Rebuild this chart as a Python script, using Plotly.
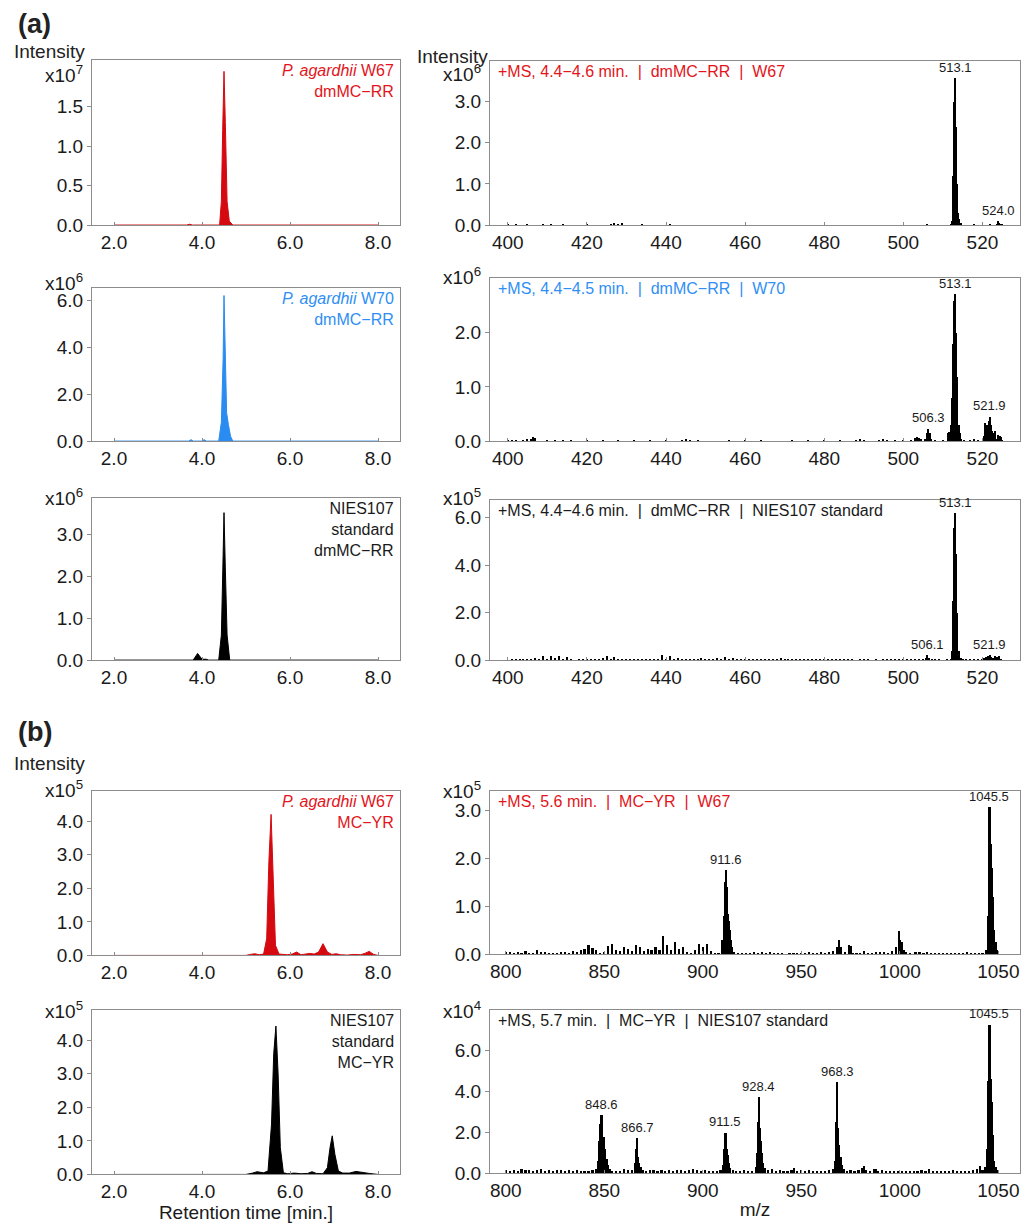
import plotly.graph_objects as go

W, H = 1035, 1225
FONT = "Liberation Sans, Arial, sans-serif"
RED_FILL = "#d40a10"
RED_TXT = "#e3141b"
BLUE_FILL = "#2a8cf0"
BLUE_TXT = "#2f8ff5"
BLACK = "#000000"
TXT = "#1a1a1a"

# ---------------- chromatograms (retention time in min, intensity scaled) ----------------
rt_a1 = [2.0, 3.65, 3.72, 3.78, 4.40, 4.44, 4.47, 4.50, 4.53, 4.57, 4.62, 4.70, 8.0]
int_a1 = [0, 0, 0.01, 0, 0, 0.3, 1.2, 1.95, 1.3, 0.3, 0.05, 0, 0]

rt_a2 = [2.0, 3.7, 3.75, 3.8, 4.0, 4.05, 4.1, 4.38, 4.44, 4.48, 4.50, 4.53, 4.56, 4.6, 4.65, 4.7, 8.0]
int_a2 = [0, 0, 0.06, 0, 0, 0.06, 0, 0, 0.8, 3.5, 6.2, 3.2, 1.2, 0.7, 0.2, 0, 0]

rt_a3 = [2.0, 2.25, 2.3, 2.35, 2.95, 3.0, 3.05, 3.3, 3.35, 3.4, 3.8, 3.9, 4.0, 4.1, 4.15,
         4.38, 4.44, 4.48, 4.5, 4.53, 4.57, 4.63, 8.0]
int_a3 = [0, 0, 0.01, 0, 0, 0.01, 0, 0, 0.01, 0, 0, 0.16, 0.02, 0.02, 0,
          0, 0.6, 2.5, 3.52, 2.2, 0.6, 0, 0]

rt_b1 = [2.0, 5.0, 5.1, 5.2, 5.3, 5.4, 5.47, 5.52, 5.57, 5.62, 5.67, 5.75, 5.85, 5.95, 6.05,
         6.15, 6.25, 6.35, 6.45, 6.55, 6.65, 6.75, 6.85, 6.95, 7.05, 7.15, 7.3, 7.45, 7.6,
         7.7, 7.8, 7.9, 8.0]
int_b1 = [0, 0, 0.03, 0.05, 0.02, 0.04, 0.5, 2.8, 4.2, 2.5, 0.3, 0.04, 0.03, 0.02, 0.04,
          0.1, 0.02, 0.03, 0.06, 0.04, 0.1, 0.35, 0.1, 0.03, 0.05, 0.02, 0.01, 0.03, 0.02,
          0.06, 0.12, 0.03, 0]

rt_b2 = [2.0, 5.0, 5.15, 5.25, 5.4, 5.5, 5.58, 5.63, 5.68, 5.73, 5.78, 5.85, 5.95, 6.1, 6.25,
         6.4, 6.5, 6.6, 6.75, 6.85, 6.91, 6.96, 7.02, 7.1, 7.2, 7.35, 7.5, 7.65, 7.8, 8.0]
int_b2 = [0, 0, 0.04, 0.08, 0.05, 0.1, 1.5, 3.6, 4.42, 3.0, 0.8, 0.05, 0.02, 0.04, 0.02,
          0.03, 0.08, 0.03, 0.02, 0.2, 0.8, 1.15, 0.6, 0.1, 0.04, 0.04, 0.09, 0.07, 0.03, 0]

# ---------------- mass spectra (m/z, intensity scaled) ----------------
mz_a1 = [400, 401, 402, 403, 405, 407, 409, 411, 413, 414, 416, 418, 420, 422, 424, 426, 427,
         428, 429, 430, 432, 434, 436, 438, 440, 441, 442, 444, 446, 450, 455, 460, 465, 470,
         475, 480, 485, 490, 495, 500, 505, 506, 508, 510, 512, 512.4, 512.7, 512.9, 513.1,
         513.3, 513.5, 513.7, 513.9, 514.2, 514.5, 516, 518, 520, 522, 523.6, 523.9, 524.2,
         524.5, 525]
ms_a1 = [0.04, 0.01, 0.03, 0.0, 0.02, 0.01, 0.02, 0.02, 0.01, 0.04, 0.01, 0.0, 0.02, 0.01,
         0.01, 0.03, 0.05, 0.03, 0.06, 0.01, 0.01, 0.02, 0.01, 0.0, 0.01, 0.03, 0.01, 0.01,
         0.0, 0.01, 0.0, 0.01, 0.0, 0.01, 0.01, 0.01, 0.0, 0.01, 0.01, 0.01, 0.01, 0.02, 0.01,
         0.01, 0.02, 0.1, 1.2, 3.0, 3.58, 2.4, 1.0, 0.5, 0.3, 0.15, 0.05, 0.01, 0.02, 0.01,
         0.02, 0.04, 0.1, 0.06, 0.04, 0.02]

mz_a2 = [400, 401, 402, 404, 405, 406, 406.5, 407, 410, 412, 414, 416, 420, 424, 428, 432,
         436, 440, 444, 445, 446, 448, 452, 456, 460, 464, 468, 472, 476, 480, 484, 488, 489,
         490, 494, 495, 496, 498, 500, 502, 503, 503.5, 504, 504.5, 505.5, 505.9, 506.3, 506.7,
         507.1, 508, 510, 511.3, 511.7, 512.1, 512.4, 512.7, 512.9, 513.1, 513.3, 513.5, 513.7,
         514.0, 514.3, 514.6, 515.5, 517, 518, 519, 520.5, 520.8, 521.1, 521.4, 521.7, 521.9,
         522.2, 522.5, 522.8, 523.1, 523.5, 524.0, 524.4, 524.8, 525]
ms_a2 = [0.01, 0.02, 0.02, 0.01, 0.04, 0.05, 0.08, 0.06, 0.01, 0.02, 0.01, 0.01, 0.01, 0.02,
         0.01, 0.02, 0.01, 0.01, 0.02, 0.05, 0.02, 0.01, 0.0, 0.01, 0.01, 0.01, 0.0, 0.01,
         0.01, 0.01, 0.01, 0.02, 0.04, 0.01, 0.01, 0.05, 0.02, 0.01, 0.01, 0.02, 0.06, 0.08,
         0.06, 0.04, 0.05, 0.15, 0.24, 0.15, 0.05, 0.01, 0.01, 0.15, 0.18, 0.3, 0.8, 1.8, 2.6,
         2.72, 2.0, 1.2, 0.6, 0.3, 0.15, 0.05, 0.01, 0.02, 0.04, 0.01, 0.1, 0.35, 0.3, 0.28,
         0.38, 0.46, 0.3, 0.2, 0.15, 0.2, 0.05, 0.12, 0.1, 0.08, 0.02]

mz_a3 = [400, 401, 402, 403, 404, 405, 406, 407, 408, 409, 410, 411, 412, 413, 414, 415, 416,
         417, 418, 419, 420, 421, 422, 423, 424, 425, 426, 427, 428, 429, 430, 431, 432, 433,
         434, 435, 436, 437, 438, 439, 440, 441, 442, 443, 444, 445, 446, 447, 448, 449, 450,
         451, 452, 453, 454, 455, 456, 457, 458, 459, 460, 461, 462, 463, 464, 465, 466, 467,
         468, 469, 470, 471, 472, 473, 474, 475, 476, 477, 478, 479, 480, 481, 482, 483, 484,
         485, 486, 487, 488, 489, 490, 491, 492, 493, 494, 495, 496, 497, 498, 499, 500, 501,
         502, 503, 504, 505, 505.8, 506.1, 506.5, 507.2, 508, 509, 510, 511, 512, 512.4, 512.7,
         512.9, 513.1, 513.3, 513.5, 513.7, 514.0, 514.5, 515, 516, 517, 518, 519, 520, 520.5,
         521, 521.5, 521.9, 522.3, 522.8, 523.3, 523.8, 524.3, 524.8, 525]
ms_a3 = [0.02, 0.06, 0.03, 0.06, 0.03, 0.06, 0.04, 0.12, 0.06, 0.2, 0.08, 0.18, 0.1, 0.2,
         0.08, 0.16, 0.04, 0.02, 0.06, 0.03, 0.06, 0.04, 0.08, 0.04, 0.1, 0.2, 0.05, 0.14,
         0.06, 0.08, 0.04, 0.06, 0.03, 0.05, 0.03, 0.06, 0.04, 0.05, 0.08, 0.22, 0.08, 0.2,
         0.05, 0.1, 0.03, 0.05, 0.03, 0.04, 0.03, 0.1, 0.04, 0.08, 0.04, 0.1, 0.05, 0.14, 0.05,
         0.1, 0.03, 0.06, 0.03, 0.04, 0.03, 0.05, 0.03, 0.06, 0.03, 0.08, 0.04, 0.1, 0.04,
         0.06, 0.03, 0.04, 0.03, 0.04, 0.03, 0.05, 0.03, 0.04, 0.03, 0.06, 0.03, 0.08, 0.03,
         0.06, 0.03, 0.04, 0.02, 0.04, 0.03, 0.04, 0.02, 0.03, 0.02, 0.06, 0.03, 0.06, 0.03,
         0.04, 0.03, 0.04, 0.03, 0.04, 0.03, 0.05, 0.12, 0.22, 0.1, 0.04, 0.03, 0.04, 0.02,
         0.03, 0.05, 0.4, 2.5, 5.6, 6.2, 4.5, 2.0, 0.9, 0.4, 0.1, 0.04, 0.03, 0.04, 0.03, 0.04,
         0.05, 0.12, 0.15, 0.18, 0.22, 0.15, 0.12, 0.2, 0.14, 0.18, 0.06, 0.02]

mz_b1 = [800, 802, 804, 806, 808, 810, 812, 814, 816, 818, 820, 822, 824, 826, 828, 830, 832,
         834, 836, 838, 840, 842, 844, 846, 848, 850, 852, 854, 856, 858, 860, 862, 864, 866,
         868, 870, 872, 874, 876, 878, 880, 882, 884, 886, 888, 890, 892, 894, 896, 898, 900,
         902, 904, 906, 908, 910, 910.6, 911.1, 911.6, 912.1, 912.6, 913.1, 913.6, 914.2,
         914.8, 916, 918, 920, 922, 924, 926, 928, 930, 932, 934, 936, 938, 940, 942, 944, 946,
         948, 950, 952, 954, 956, 958, 960, 962, 964, 966, 968, 969, 970, 972, 974, 975, 976,
         978, 980, 982, 984, 986, 988, 990, 992, 994, 996, 998, 999.5, 1000.3, 1001.1, 1002,
         1003, 1005, 1008, 1010, 1012, 1014, 1016, 1018, 1020, 1022, 1024, 1026, 1028, 1030,
         1032, 1034, 1036, 1038, 1040, 1042, 1044, 1044.6, 1045.1, 1045.5, 1046.0, 1046.5,
         1047.0, 1047.5, 1048.0, 1048.6, 1049.2, 1050]
ms_b1 = [0.05, 0.06, 0.02, 0.05, 0.03, 0.08, 0.02, 0.04, 0.1, 0.05, 0.06, 0.03, 0.04, 0.04,
         0.05, 0.06, 0.04, 0.08, 0.06, 0.1, 0.12, 0.2, 0.14, 0.1, 0.04, 0.06, 0.18, 0.22, 0.1,
         0.08, 0.15, 0.12, 0.08, 0.2, 0.15, 0.08, 0.12, 0.1, 0.15, 0.1, 0.38, 0.2, 0.1, 0.27,
         0.12, 0.15, 0.06, 0.04, 0.1, 0.22, 0.15, 0.22, 0.08, 0.03, 0.04, 0.3, 0.8, 1.5, 1.75,
         1.4, 0.85, 0.7, 0.5, 0.3, 0.15, 0.05, 0.03, 0.04, 0.02, 0.03, 0.05, 0.03, 0.05, 0.04,
         0.06, 0.03, 0.04, 0.02, 0.01, 0.04, 0.03, 0.02, 0.04, 0.03, 0.05, 0.04, 0.04, 0.05,
         0.04, 0.06, 0.08, 0.15, 0.3, 0.15, 0.05, 0.2, 0.18, 0.04, 0.02, 0.02, 0.08, 0.02, 0.04,
         0.06, 0.05, 0.06, 0.04, 0.08, 0.15, 0.48, 0.3, 0.25, 0.1, 0.06, 0.02, 0.05, 0.06,
         0.04, 0.06, 0.03, 0.04, 0.03, 0.04, 0.02, 0.03, 0.02, 0.04, 0.02, 0.05, 0.02, 0.03,
         0.02, 0.03, 0.1, 0.8, 2.4, 3.07, 2.3, 1.8, 1.2, 0.8, 0.5, 0.25, 0.1, 0.03]

mz_b2 = [800, 802, 804, 806, 808, 810, 812, 814, 816, 818, 820, 822, 824, 826, 828, 830, 832,
         834, 836, 838, 840, 842, 844, 846, 847, 847.6, 848.1, 848.6, 849.2, 849.8, 850.4,
         851.1, 852, 853, 854, 856, 858, 860, 862, 864, 865.8, 866.3, 866.7, 867.2, 867.8,
         868.5, 869.5, 871, 873, 875, 877, 879, 881, 883, 885, 887, 889, 891, 893, 895, 897,
         899, 901, 903, 905, 907, 909, 910.5, 911.0, 911.5, 912.0, 912.6, 913.2, 914, 915.5,
         917, 919, 921, 923, 925, 926.8, 927.4, 927.9, 928.4, 928.9, 929.4, 930.0, 930.7,
         931.5, 933, 935, 937, 939, 941, 943, 945, 946.5, 948, 950, 952, 954, 956, 958, 960,
         962, 964, 966, 967.3, 967.8, 968.3, 968.8, 969.3, 969.9, 970.6, 971.5, 973, 975, 977,
         979, 981, 982, 983, 985, 987, 988, 989, 991, 993, 995, 997, 999, 1001, 1003, 1005,
         1007, 1009, 1011, 1013, 1015, 1017, 1019, 1021, 1023, 1025, 1027, 1029, 1031, 1033,
         1035, 1037, 1039, 1040.5, 1042, 1043.5, 1044.4, 1044.9, 1045.5, 1046.0, 1046.5,
         1047.0, 1047.5, 1048.0, 1048.6, 1049.3, 1050]
ms_b2 = [0.15, 0.1, 0.18, 0.12, 0.2, 0.15, 0.18, 0.12, 0.15, 0.2, 0.12, 0.15, 0.12, 0.18,
         0.15, 0.12, 0.18, 0.12, 0.15, 0.1, 0.12, 0.1, 0.15, 0.2, 0.6, 1.6, 2.4, 2.85, 1.6,
         1.8, 1.2, 0.7, 0.4, 0.2, 0.1, 0.12, 0.1, 0.2, 0.18, 0.15, 0.5, 1.2, 1.72, 0.8, 0.5,
         0.3, 0.15, 0.12, 0.18, 0.15, 0.12, 0.15, 0.12, 0.15, 0.1, 0.15, 0.18, 0.12, 0.15, 0.2,
         0.15, 0.12, 0.15, 0.1, 0.12, 0.1, 0.15, 0.4, 1.2, 2.0, 1.2, 0.9, 0.5, 0.25, 0.15, 0.12,
         0.1, 0.15, 0.1, 0.12, 0.3, 1.0, 2.5, 3.73, 2.2, 1.6, 1.0, 0.5, 0.25, 0.15, 0.2, 0.12,
         0.15, 0.1, 0.12, 0.15, 0.25, 0.12, 0.15, 0.12, 0.15, 0.1, 0.12, 0.1, 0.12, 0.15, 0.2,
         0.6, 2.5, 4.47, 2.2, 1.4, 0.8, 0.4, 0.2, 0.12, 0.15, 0.12, 0.15, 0.25, 0.35, 0.15,
         0.12, 0.2, 0.22, 0.12, 0.15, 0.12, 0.1, 0.12, 0.1, 0.12, 0.1, 0.12, 0.1, 0.12, 0.15,
         0.1, 0.2, 0.12, 0.1, 0.12, 0.1, 0.12, 0.18, 0.1, 0.12, 0.1, 0.12, 0.15, 0.2, 0.35,
         0.15, 0.3, 1.2, 4.5, 7.27, 4.6, 3.5, 1.9, 1.2, 0.6, 0.3, 0.15, 0.1]

# peak labels
pk_a1_x = [513.1, 524.0]; pk_a1_y = [3.58, 0.1]; pk_a1_t = ["513.1", "524.0"]
pk_a2_x = [506.3, 513.1, 521.9]; pk_a2_y = [0.24, 2.72, 0.46]; pk_a2_t = ["506.3", "513.1", "521.9"]
pk_a3_x = [506.1, 513.1, 521.9]; pk_a3_y = [0.22, 6.2, 0.22]; pk_a3_t = ["506.1", "513.1", "521.9"]
pk_b1_x = [911.6, 1045.5]; pk_b1_y = [1.75, 3.07]; pk_b1_t = ["911.6", "1045.5"]
pk_b2_x = [848.6, 866.7, 911.5, 928.4, 968.3, 1045.5]
pk_b2_y = [2.85, 1.72, 2.0, 3.73, 4.47, 7.27]
pk_b2_t = ["848.6", "866.7", "911.5", "928.4", "968.3", "1045.5"]

# ---------------- layout geometry (pixels) ----------------
LEFT_X = (84, 392)
RIGHT_X = (482, 1012)
LEFT_ROWS = [(52, 219), (283, 437), (494, 658), (790, 956), (1011, 1177)]
RIGHT_ROWS = [(53, 219), (272, 437), (496, 658), (790, 955), (1011, 1176)]

panels = [
    dict(r=0, c=0, x=rt_a1, y=int_a1, col=RED_FILL, yr=2.1, tv=[0, 0.5, 1.0, 1.5], ex=7, es=-14,
         txt="<i>P. agardhii</i> W67<br>dmMC\u2212RR", tc=RED_TXT),
    dict(r=0, c=1, x=mz_a1, y=ms_a1, col=BLACK, yr=4.0, tv=[0, 1, 2, 3], ex=6, es=-12,
         txt="+MS, 4.4\u22124.6 min.\u00a0 |\u00a0 dmMC\u2212RR\u00a0 |\u00a0 W67", tc=RED_TXT,
         pk=(pk_a1_x, pk_a1_y, pk_a1_t)),
    dict(r=1, c=0, x=rt_a2, y=int_a2, col=BLUE_FILL, yr=6.5, tv=[0, 2, 4, 6], ex=6, es=6,
         txt="<i>P. agardhii</i> W70<br>dmMC\u2212RR", tc=BLUE_TXT),
    dict(r=1, c=1, x=mz_a2, y=ms_a2, col=BLACK, yr=3.02, tv=[0, 1, 2], ex=6, es=2,
         txt="+MS, 4.4\u22124.5 min.\u00a0 |\u00a0 dmMC\u2212RR\u00a0 |\u00a0 W70", tc=BLUE_TXT,
         pk=(pk_a2_x, pk_a2_y, pk_a2_t)),
    dict(r=2, c=0, x=rt_a3, y=int_a3, col=BLACK, yr=3.88, tv=[0, 1, 2, 3], ex=6, es=1,
         txt="NIES107<br>standard<br>dmMC\u2212RR", tc=TXT),
    dict(r=2, c=1, x=mz_a3, y=ms_a3, col=BLACK, yr=6.76, tv=[0, 2, 4, 6], ex=5, es=3,
         txt="+MS, 4.4\u22124.6 min.\u00a0 |\u00a0 dmMC\u2212RR\u00a0 |\u00a0 NIES107 standard", tc=TXT,
         pk=(pk_a3_x, pk_a3_y, pk_a3_t)),
    dict(r=3, c=0, x=rt_b1, y=int_b1, col=RED_FILL, yr=4.9, tv=[0, 1, 2, 3, 4], ex=5, es=2,
         txt="<i>P. agardhii</i> W67<br>MC\u2212YR", tc=RED_TXT),
    dict(r=3, c=1, x=mz_b1, y=ms_b1, col=BLACK, yr=3.40, tv=[0, 1, 2, 3], ex=5, es=1,
         txt="+MS, 5.6 min.\u00a0 |\u00a0 MC\u2212YR\u00a0 |\u00a0 W67", tc=RED_TXT,
         pk=(pk_b1_x, pk_b1_y, pk_b1_t)),
    dict(r=4, c=0, x=rt_b2, y=int_b2, col=BLACK, yr=4.9, tv=[0, 1, 2, 3, 4], ex=5, es=0,
         txt="NIES107<br>standard<br>MC\u2212YR", tc=TXT),
    dict(r=4, c=1, x=mz_b2, y=ms_b2, col=BLACK, yr=7.98, tv=[0, 2, 4, 6], ex=4, es=0,
         txt="+MS, 5.7 min.\u00a0 |\u00a0 MC\u2212YR\u00a0 |\u00a0 NIES107 standard", tc=TXT,
         pk=(pk_b2_x, pk_b2_y, pk_b2_t)),
]

fig = go.Figure()
layout = dict(width=W, height=H, margin=dict(l=0, r=0, t=0, b=0),
              paper_bgcolor="white", plot_bgcolor="white", showlegend=False,
              bargap=0, font=dict(family=FONT, color=TXT))
annotations = []

TICK_FS = 19
axis_common = dict(showline=True, mirror=True, linecolor="#8c8c8c", linewidth=1,
                   showgrid=False, zeroline=False, tickcolor="#8c8c8c",
                   tickfont=dict(size=TICK_FS, color=TXT, family=FONT))

for i, p in enumerate(panels, start=1):
    xa = "x" if i == 1 else f"x{i}"
    ya = "y" if i == 1 else f"y{i}"
    top, bot = (LEFT_ROWS if p["c"] == 0 else RIGHT_ROWS)[p["r"]]
    x0, x1 = LEFT_X if p["c"] == 0 else RIGHT_X
    if p["c"] == 0:
        fig.add_trace(go.Scatter(x=p["x"], y=p["y"], mode="lines", fill="tozeroy",
                                 line=dict(color=p["col"], width=1), fillcolor=p["col"],
                                 xaxis=xa, yaxis=ya, hoverinfo="skip"))
    else:
        bw = 0.32 if p["r"] < 3 else 1.1
        fig.add_trace(go.Bar(x=p["x"], y=p["y"], width=bw, marker=dict(color=BLACK, line=dict(width=0)),
                             xaxis=xa, yaxis=ya, hoverinfo="skip"))
    xkey = "xaxis" if i == 1 else f"xaxis{i}"
    ykey = "yaxis" if i == 1 else f"yaxis{i}"
    if p["c"] == 0:
        xr = [1.5, 8.5]; xt = [2, 4, 6, 8]
    elif p["r"] < 3:
        xr = [395.5, 529.5]; xt = [400, 420, 440, 460, 480, 500, 520]
    else:
        xr = [792, 1061]; xt = [800, 850, 900, 950, 1000, 1050]
    xd = dict(axis_common, domain=[x0 / W, x1 / W], range=xr, tickvals=xt,
              ticks="inside", ticklen=3,
              ticktext=[(f"{v:.1f}" if p["c"] == 0 else str(v)) for v in xt],
              anchor=ya)
    if p["r"] == 4:
        xd["title"] = dict(text="Retention time [min.]" if p["c"] == 0 else "m/z",
                           font=dict(size=TICK_FS, color=TXT, family=FONT), standoff=2)
    layout[xkey] = xd
    layout[ykey] = dict(axis_common, domain=[1 - bot / H, 1 - top / H], range=[0, p["yr"]],
                        ticks="outside", ticklen=4,
                        tickvals=p["tv"], ticktext=[f"{v:.1f}" for v in p["tv"]], anchor=xa)
    # exponent label
    annotations.append(dict(xref=f"{xa} domain", yref=f"{ya} domain", x=0, y=1,
                            xanchor="right", yanchor="middle", xshift=-7, yshift=p["es"],
                            text=f"x10<sup>{p['ex']}</sup>", showarrow=False,
                            font=dict(size=TICK_FS, color=TXT, family=FONT)))
    # panel text
    if p["c"] == 0:
        annotations.append(dict(xref=f"{xa} domain", yref=f"{ya} domain", x=1, y=1,
                                xanchor="right", yanchor="top", xshift=-4, yshift=0,
                                align="right", text=p["txt"], showarrow=False,
                                font=dict(size=16, color=p["tc"], family=FONT)))
    else:
        annotations.append(dict(xref=f"{xa} domain", yref=f"{ya} domain", x=0, y=1,
                                xanchor="left", yanchor="top", xshift=6, yshift=0,
                                align="left", text=p["txt"], showarrow=False,
                                font=dict(size=16, color=p["tc"], family=FONT)))
        px, py, pt = p["pk"]
        for a, b, t in zip(px, py, pt):
            annotations.append(dict(xref=xa, yref=ya, x=a, y=b, xanchor="center",
                                    yanchor="bottom", yshift=1, text=t, showarrow=False,
                                    font=dict(size=13, color=TXT, family=FONT)))

# section letters and "Intensity" labels (pixel positions)
for txt, xp, yp, sz, bold in [("(a)", 8, 16, 27, True), ("(b)", 8, 731, 27, True),
                              ("Intensity", 4, 44, 19, False), ("Intensity", 407, 49, 19, False),
                              ("Intensity", 4, 762, 19, False)]:
    annotations.append(dict(xref="paper", yref="paper", x=xp / W, y=1 - yp / H,
                            xanchor="left", yanchor="middle", showarrow=False,
                            text=f"<b>{txt}</b>" if bold else txt,
                            font=dict(size=sz, color="#222222", family=FONT)))

layout["annotations"] = annotations
fig.update_layout(**layout)
fig.write_html("out.html")
